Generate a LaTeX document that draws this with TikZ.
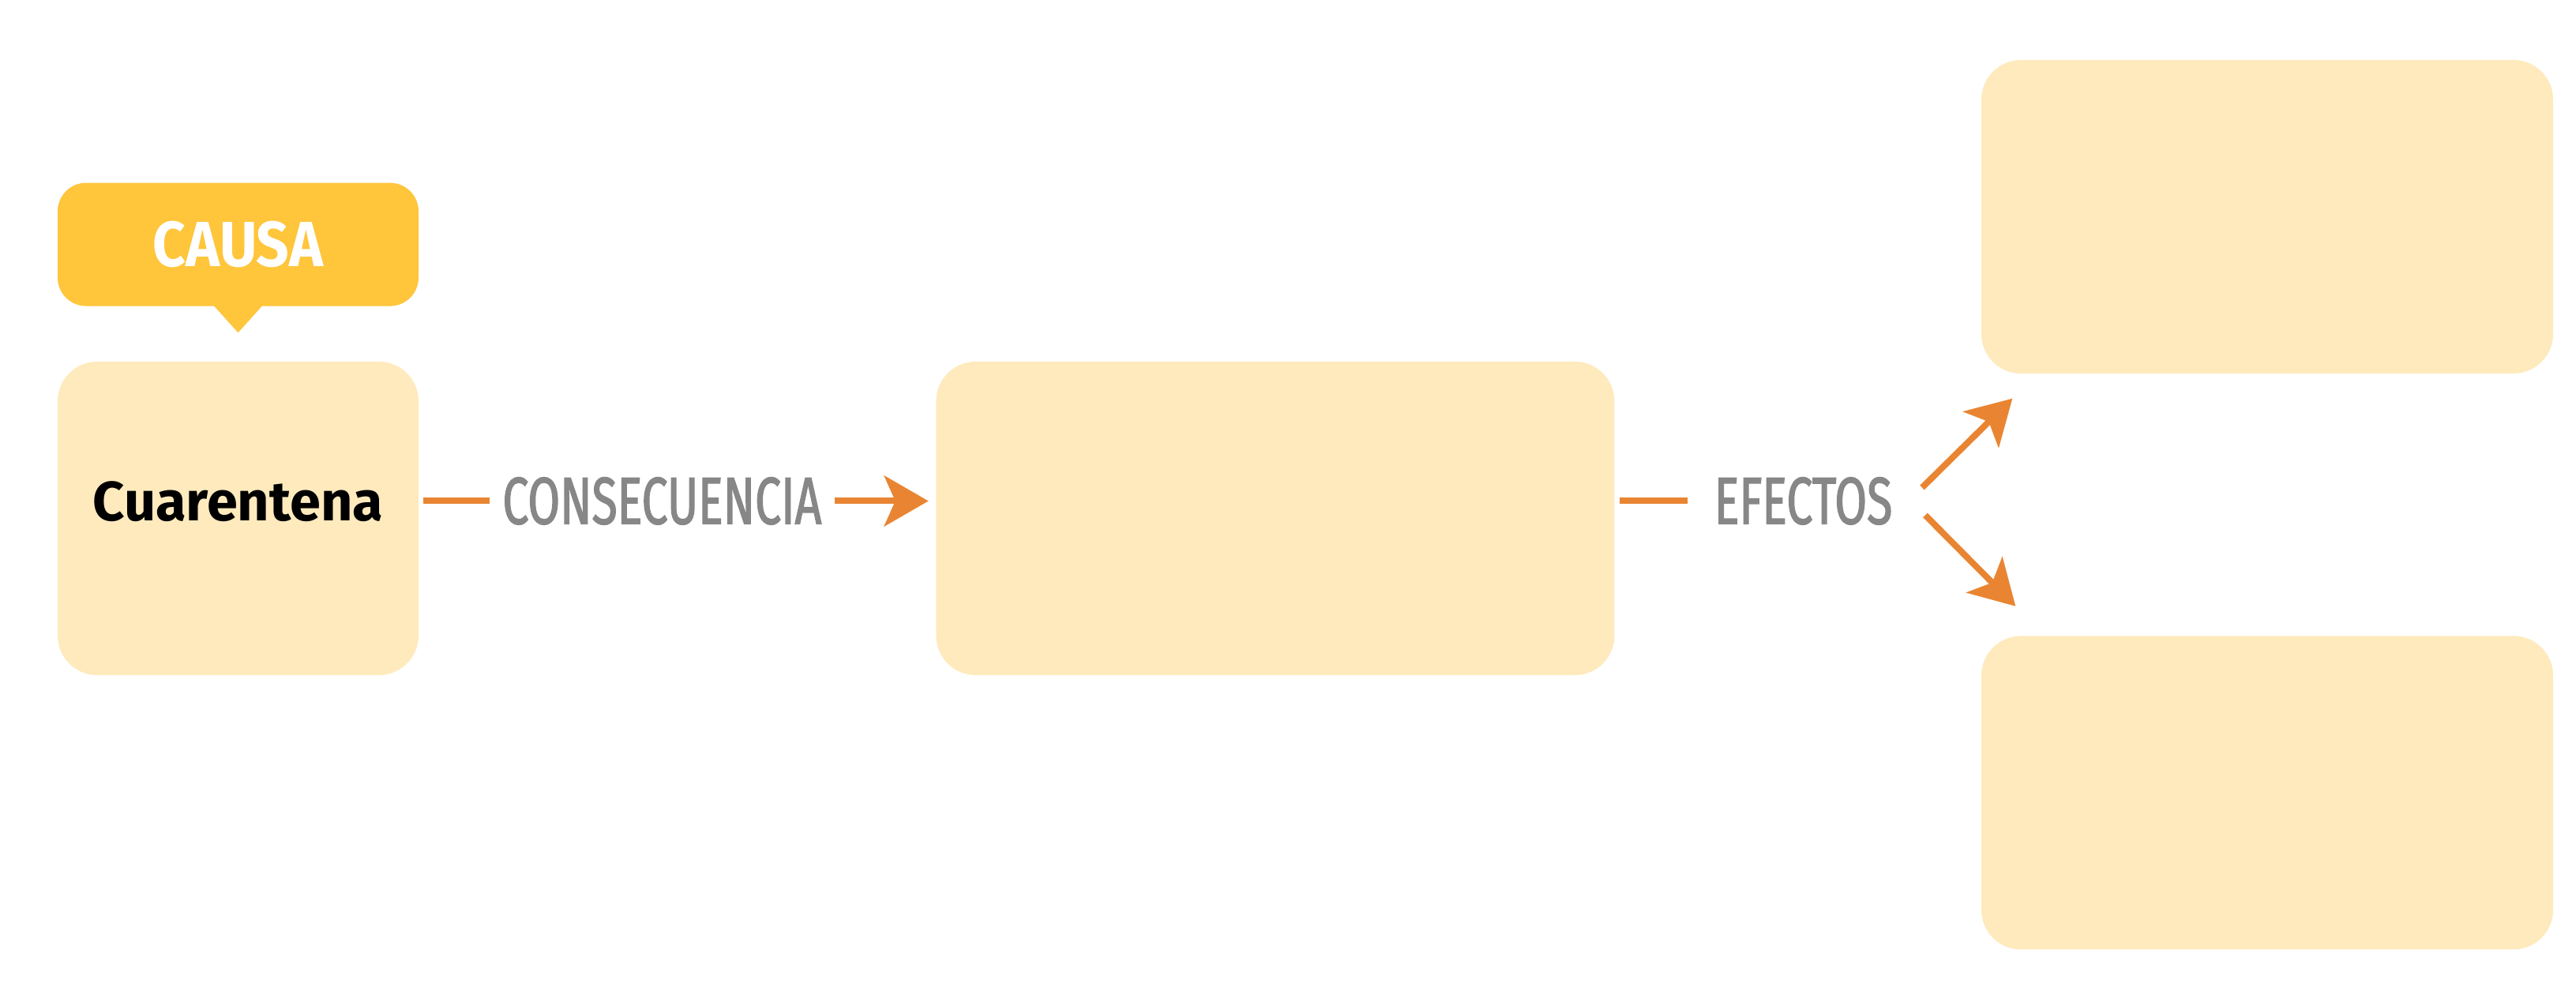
\documentclass[tikz,border=0pt]{standalone}
\usepackage{fontspec}
\setmainfont{Fira Sans}
\newfontfamily\condfont[FakeStretch=0.70, FakeBold=1.6]{Fira Sans}
\newfontfamily\tagfont[FakeStretch=0.9]{Fira Sans}
\usepackage{tikz}
\usetikzlibrary{arrows.meta,positioning,calc}
\definecolor{cCard}{HTML}{FEEABD}
\definecolor{cTag}{HTML}{FFC53B}
\definecolor{cLink}{HTML}{E98532}
\definecolor{cWord}{HTML}{878787}
\tikzset{
  card/.style ={fill=cCard, rounded corners=0.5cm, minimum height=3.97cm, inner sep=0pt},
  tag/.style  ={fill=cTag, rounded corners=0.36cm, minimum width=4.57cm, minimum height=1.56cm,
                inner sep=0pt, text=white, font=\tagfont\bfseries\fontsize{23}{26}\selectfont},
  word/.style ={inner xsep=0.16cm, inner ysep=0pt, text=cWord, font=\condfont\fontsize{24}{28}\selectfont},
  link/.style ={draw=cLink, line width=0.08cm},
  arrow/.style={link, -{Stealth[length=0.56cm, width=0.64cm, inset=0.14cm]}},
}

\begin{document}
\begin{tikzpicture}[node distance=0.89cm]
    \useasboundingbox (0,0) rectangle (32.62,12.74);
    \node[card, minimum width=4.57cm, text depth=0.44cm, font=\bfseries\fontsize{20}{24}\selectfont] (cuar) at (3.015,6.175) {Cuarentena};
    \node[tag, above=0.69cm of cuar] (causa) {CAUSA};
    \fill[cTag] ([xshift=-0.315cm, yshift=0.02cm]causa.south) -- ([yshift=-0.33cm]causa.south)
        -- ([xshift=0.315cm, yshift=0.02cm]causa.south) -- cycle;
    \node[word, right=of cuar, yshift=0.22cm] (cons) {CONSECUENCIA};
    \node[card, minimum width=8.59cm, right=6.54cm of cuar] (mid) {};
    \node[word, right=1.09cm of mid, yshift=0.22cm] (efec) {EFECTOS};
    \node[card, minimum width=7.24cm] (top) at (28.71,9.995) {};
    \node[card, minimum width=7.24cm, below=3.31cm of top] (bot) {};
    \draw[link, shorten <=0.05cm] (cuar.east |- cons) -- (cons);
    \draw[arrow, shorten >=0.09cm] (cons) -- (cons -| mid.west);
    \draw[link, shorten <=0.06cm, shorten >=0.17cm] (mid.east |- efec) -- (efec);
    \draw[arrow] ([shift={(0.21,0.17)}]efec.east) -- ([shift={(0.40,-0.31)}]top.south west);
    \draw[arrow] ([shift={(0.25,-0.18)}]efec.east) -- ([shift={(0.44,0.37)}]bot.north west);
  \end{tikzpicture}
\end{document}
